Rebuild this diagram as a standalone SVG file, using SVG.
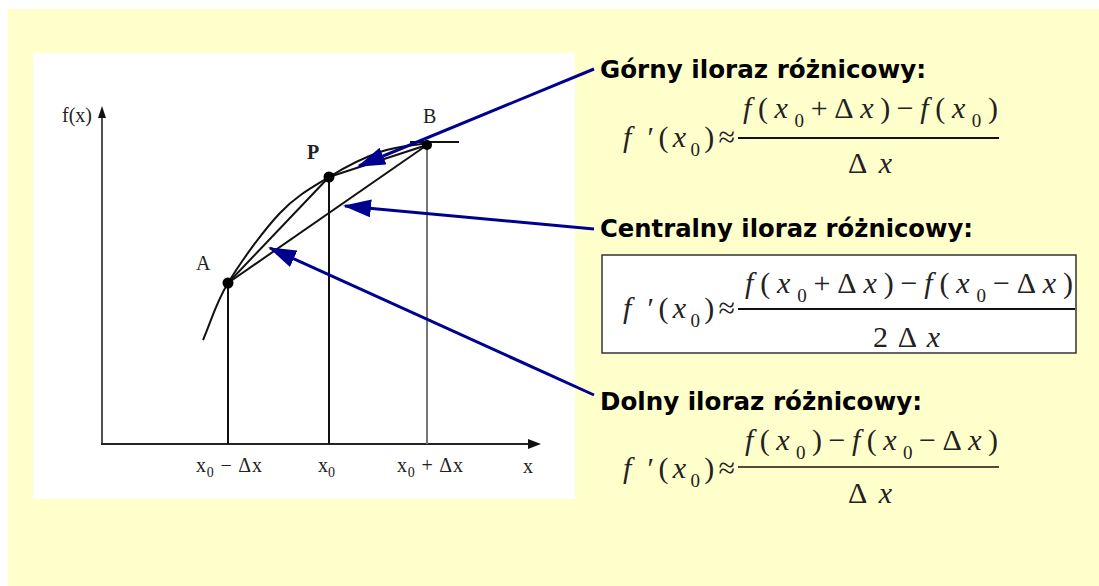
<svg xmlns="http://www.w3.org/2000/svg" width="1099" height="586" viewBox="0 0 1099 586">
<style>
.h{font-family:"DejaVu Sans",Verdana,sans-serif;font-weight:bold;font-size:24px;fill:#000}
.m{font-family:"Liberation Serif","Times New Roman",serif;font-size:30px;fill:#222}
.i{font-style:italic}
.s{font-size:19px}
.g{font-family:"Liberation Serif","Times New Roman",serif;font-size:20px;fill:#222}
.gs{font-size:14px}
.ln{stroke:#111;stroke-width:2;fill:none}
.bl{stroke:#000090;stroke-width:3;fill:none;marker-end:url(#ah)}
.fr{stroke:#111;stroke-width:2}
</style>
<defs>
<marker id="ah" viewBox="0 0 28 18" refX="26" refY="9" markerWidth="28" markerHeight="18" markerUnits="userSpaceOnUse" orient="auto">
<path d="M0,0 L28,9 L0,18 z" fill="#000090"/>
</marker>
</defs>
<rect x="0" y="0" width="1099" height="586" fill="#fff"/>
<rect x="8" y="9" width="1091" height="577" fill="#FFFFCC"/>
<g id="graph">
<rect x="33" y="53" width="542" height="446" fill="#fff"/>
<line x1="102" y1="444" x2="102" y2="115" stroke="#222" stroke-width="1.6"/>
<path d="M102,106 L98,118 L106,118 z" fill="#111"/>
<line x1="101" y1="444" x2="530" y2="444" stroke="#222" stroke-width="2.2"/>
<path d="M541,444 L528,439 L528,449 z" fill="#111"/>
<line x1="228" y1="283" x2="228" y2="444" class="ln"/>
<line x1="329" y1="177" x2="329" y2="444" class="ln"/>
<line x1="427" y1="145" x2="427" y2="444" stroke="#777" stroke-width="2"/>
<path class="ln" d="M203,340 C211.3,321 215.2,304.2 228,283 C240.8,261.8 263.2,230.7 280,213 C296.8,195.3 312.3,187.2 329,177 C345.7,166.8 363.7,157.5 380,152 C396.3,146.5 411.3,145.7 427,143"/>
<line x1="410" y1="142" x2="459" y2="142" class="ln"/>
<line x1="228" y1="283" x2="329" y2="177" class="ln"/>
<line x1="228" y1="283" x2="427" y2="145" class="ln"/>
<line x1="329" y1="177" x2="427" y2="145" class="ln"/>
<circle cx="228" cy="283" r="5.5" fill="#000"/>
<circle cx="329" cy="177" r="5.5" fill="#000"/>
<circle cx="427" cy="145" r="5" fill="#000"/>
<text class="g" x="62" y="122">f(x)</text>
<text class="g" x="196" y="270">A</text>
<text class="g" x="307" y="159" font-weight="bold">P</text>
<text class="g" x="423" y="123">B</text>
<text class="g" x="523" y="473">x</text>
<text class="g" x="196" y="472" textLength="66" lengthAdjust="spacing">x<tspan class="gs" dy="5">0</tspan><tspan dy="-5"> − Δx</tspan></text>
<text class="g" x="318" y="472">x<tspan class="gs" dy="5">0</tspan></text>
<text class="g" x="397" y="472" textLength="66" lengthAdjust="spacing">x<tspan class="gs" dy="5">0</tspan><tspan dy="-5"> + Δx</tspan></text>
</g>
<g id="gorny">
<text class="h" x="600" y="78" textLength="326" lengthAdjust="spacingAndGlyphs">Górny iloraz różnicowy:</text>
<text class="m" x="623" y="147" textLength="112" lengthAdjust="spacing"><tspan class="i">f</tspan> ′(<tspan class="i">x</tspan><tspan class="s" dy="9">0</tspan><tspan dy="-9">)≈</tspan></text>
<text class="m" x="743" y="118" textLength="255" lengthAdjust="spacing"><tspan class="i">f</tspan>(<tspan class="i">x</tspan><tspan class="s" dy="9">0</tspan><tspan dy="-9">+Δ</tspan><tspan class="i">x</tspan>)−<tspan class="i">f</tspan>(<tspan class="i">x</tspan><tspan class="s" dy="9">0</tspan><tspan dy="-9">)</tspan></text>
<line x1="738" y1="138" x2="999" y2="138" class="fr"/>
<text class="m" x="848" y="173" textLength="44" lengthAdjust="spacing">Δ<tspan class="i">x</tspan></text>
</g>
<g id="centralny">
<text class="h" x="600" y="237" textLength="373" lengthAdjust="spacingAndGlyphs">Centralny iloraz różnicowy:</text>
<rect x="602" y="255" width="474" height="98" fill="#fff" stroke="#333" stroke-width="1.5"/>
<text class="m" x="623" y="318" textLength="112" lengthAdjust="spacing"><tspan class="i">f</tspan> ′(<tspan class="i">x</tspan><tspan class="s" dy="9">0</tspan><tspan dy="-9">)≈</tspan></text>
<text class="m" x="745" y="293" textLength="328" lengthAdjust="spacing"><tspan class="i">f</tspan>(<tspan class="i">x</tspan><tspan class="s" dy="9">0</tspan><tspan dy="-9">+Δ</tspan><tspan class="i">x</tspan>)−<tspan class="i">f</tspan>(<tspan class="i">x</tspan><tspan class="s" dy="9">0</tspan><tspan dy="-9">−Δ</tspan><tspan class="i">x</tspan>)</text>
<line x1="738" y1="309" x2="1075" y2="309" class="fr"/>
<text class="m" x="873" y="347" textLength="67" lengthAdjust="spacing">2Δ<tspan class="i">x</tspan></text>
</g>
<g id="dolny">
<text class="h" x="600" y="410" textLength="322" lengthAdjust="spacingAndGlyphs">Dolny iloraz różnicowy:</text>
<text class="m" x="623" y="478" textLength="112" lengthAdjust="spacing"><tspan class="i">f</tspan> ′(<tspan class="i">x</tspan><tspan class="s" dy="9">0</tspan><tspan dy="-9">)≈</tspan></text>
<text class="m" x="745" y="450" textLength="253" lengthAdjust="spacing"><tspan class="i">f</tspan>(<tspan class="i">x</tspan><tspan class="s" dy="9">0</tspan><tspan dy="-9">)−</tspan><tspan class="i">f</tspan>(<tspan class="i">x</tspan><tspan class="s" dy="9">0</tspan><tspan dy="-9">−Δ</tspan><tspan class="i">x</tspan>)</text>
<line x1="738" y1="467" x2="999" y2="467" stroke="#111" stroke-width="1.5"/>
<text class="m" x="848" y="503" textLength="44" lengthAdjust="spacing">Δ<tspan class="i">x</tspan></text>
</g>
<g id="connectors">
<line x1="594" y1="69" x2="359" y2="166" class="bl"/>
<line x1="594" y1="229" x2="345" y2="206" class="bl"/>
<line x1="594" y1="395" x2="270" y2="248" class="bl"/>
</g>
</svg>
